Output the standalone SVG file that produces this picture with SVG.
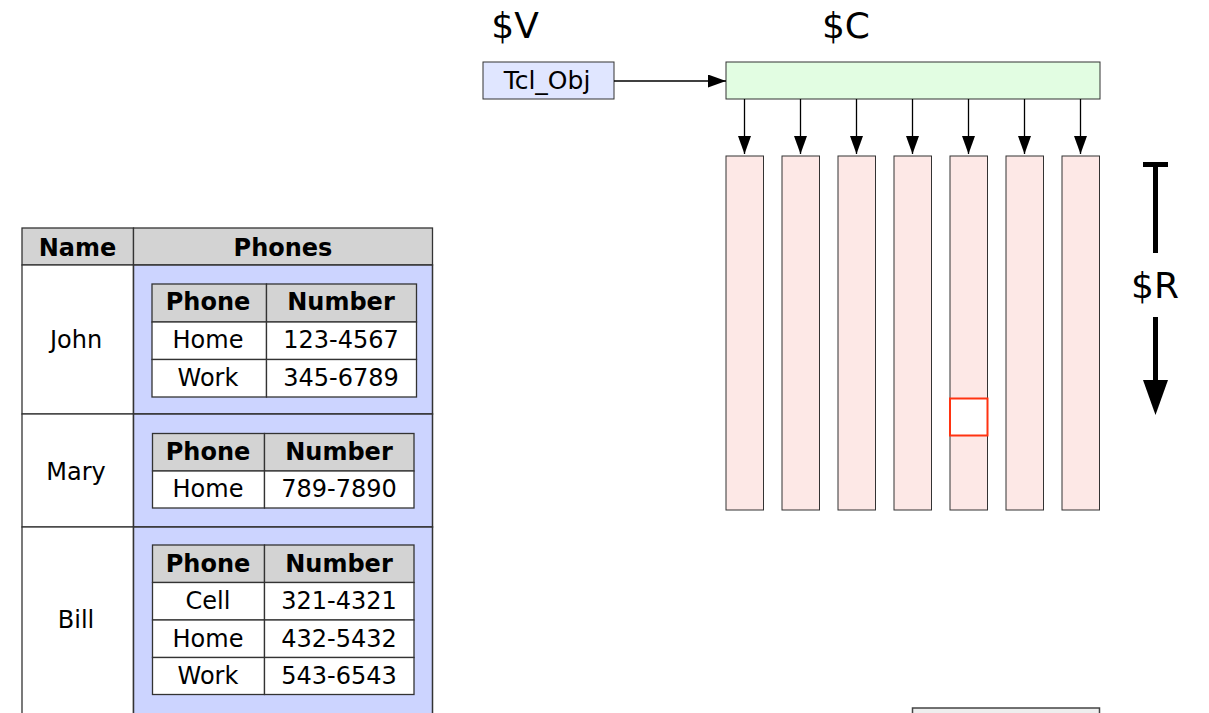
<svg xmlns="http://www.w3.org/2000/svg" width="1209" height="713" viewBox="0 0 1209 713">
<defs>
<style>
text{font-family:"DejaVu Sans","Liberation Sans",sans-serif;fill:#000;text-anchor:middle}
.t{font-size:24px}
.b{font-size:24px;font-weight:bold}
.big{font-size:36px}
.hd{fill:#d3d3d3;stroke:#333;stroke-width:1.3}
.cell{fill:#fff;stroke:#333;stroke-width:1.3}
.blue{fill:#ccd4ff;stroke:#333;stroke-width:1.5}
.col{fill:#fde8e6;stroke:#333;stroke-width:1}
.conn{stroke:#000;stroke-width:1.3;fill:none}
</style>
<marker id="ah" viewBox="0 0 18 13" refX="18" refY="6.5" markerWidth="18" markerHeight="13" markerUnits="userSpaceOnUse" orient="auto"><path d="M0,0 L18,6.5 L0,13 Z" fill="#000"/></marker>
</defs>

<g id="label-V"><text class="big" x="515" y="38">$V</text></g>
<g id="label-C"><text class="big" x="846" y="38">$C</text></g>

<g id="tclobj">
<rect x="483" y="62" width="131" height="37" fill="#e0e6ff" stroke="#333" stroke-width="1"/>
<text x="547" y="89" style="font-size:25px">Tcl_Obj</text>
</g>
<g id="array">
<rect x="726" y="62" width="374" height="37" fill="#e2fde2" stroke="#333" stroke-width="1"/>
</g>

<g id="columns">
<rect class="col" x="726" y="156" width="37.5" height="354"/>
<rect class="col" x="782" y="156" width="37.5" height="354"/>
<rect class="col" x="838" y="156" width="37.5" height="354"/>
<rect class="col" x="894" y="156" width="37.5" height="354"/>
<rect class="col" x="950" y="156" width="37.5" height="354"/>
<rect class="col" x="1006" y="156" width="37.5" height="354"/>
<rect class="col" x="1062" y="156" width="37.5" height="354"/>
</g>
<g id="selected"><rect x="950" y="398.5" width="37.5" height="37" fill="#fff" stroke="#ff3311" stroke-width="2"/></g>

<g id="connectors">
<line class="conn" x1="614" y1="81" x2="726" y2="81" marker-end="url(#ah)"/>
<line class="conn" x1="744.5" y1="99" x2="744.5" y2="154" marker-end="url(#ah)"/>
<line class="conn" x1="800.5" y1="99" x2="800.5" y2="154" marker-end="url(#ah)"/>
<line class="conn" x1="856.5" y1="99" x2="856.5" y2="154" marker-end="url(#ah)"/>
<line class="conn" x1="912.5" y1="99" x2="912.5" y2="154" marker-end="url(#ah)"/>
<line class="conn" x1="968.5" y1="99" x2="968.5" y2="154" marker-end="url(#ah)"/>
<line class="conn" x1="1024.5" y1="99" x2="1024.5" y2="154" marker-end="url(#ah)"/>
<line class="conn" x1="1080.5" y1="99" x2="1080.5" y2="154" marker-end="url(#ah)"/>
</g>

<g id="rows-indicator">
<line x1="1143" y1="164.5" x2="1168" y2="164.5" stroke="#000" stroke-width="5"/>
<line x1="1155.5" y1="162" x2="1155.5" y2="253" stroke="#000" stroke-width="5"/>
<text class="big" x="1155" y="298">$R</text>
<line x1="1155.5" y1="317" x2="1155.5" y2="382" stroke="#000" stroke-width="5"/>
<path d="M1143,380 L1168,380 L1155.5,415 Z" fill="#000"/>
</g>

<g id="table">
<rect class="hd" x="22" y="228" width="111.5" height="37"/>
<rect class="hd" x="133.5" y="228" width="299" height="37"/>
<text class="b" x="77.5" y="256">Name</text>
<text class="b" x="283" y="256">Phones</text>

<rect class="cell" x="22" y="265" width="111.5" height="149"/>
<rect class="blue" x="133.5" y="265" width="299" height="149"/>
<text class="t" x="76" y="348">John</text>

<rect class="cell" x="22" y="414" width="111.5" height="113"/>
<rect class="blue" x="133.5" y="414" width="299" height="113"/>
<text class="t" x="76" y="480">Mary</text>

<rect class="cell" x="22" y="527" width="111.5" height="190"/>
<rect class="blue" x="133.5" y="527" width="299" height="190"/>
<text class="t" x="76" y="628">Bill</text>
</g>

<g id="john-phones">
<rect class="hd" x="152" y="284" width="114.5" height="38"/>
<rect class="hd" x="266.5" y="284" width="150" height="38"/>
<rect class="cell" x="152" y="322" width="114.5" height="37.5"/>
<rect class="cell" x="266.5" y="322" width="150" height="37.5"/>
<rect class="cell" x="152" y="359.5" width="114.5" height="37.5"/>
<rect class="cell" x="266.5" y="359.5" width="150" height="37.5"/>
<text class="b" x="208" y="310">Phone</text>
<text class="b" x="341" y="310">Number</text>
<text class="t" x="208" y="348">Home</text>
<text class="t" x="341" y="348">123-4567</text>
<text class="t" x="208" y="386">Work</text>
<text class="t" x="341" y="386">345-6789</text>
</g>

<g id="mary-phones">
<rect class="hd" x="152.5" y="433.5" width="112" height="37.5"/>
<rect class="hd" x="264.5" y="433.5" width="149.5" height="37.5"/>
<rect class="cell" x="152.5" y="471" width="112" height="37"/>
<rect class="cell" x="264.5" y="471" width="149.5" height="37"/>
<text class="b" x="208" y="460">Phone</text>
<text class="b" x="339" y="460">Number</text>
<text class="t" x="208" y="497">Home</text>
<text class="t" x="339" y="497">789-7890</text>
</g>

<g id="bill-phones">
<rect class="hd" x="152.5" y="545" width="112" height="37.5"/>
<rect class="hd" x="264.5" y="545" width="149.5" height="37.5"/>
<rect class="cell" x="152.5" y="582.5" width="112" height="37.5"/>
<rect class="cell" x="264.5" y="582.5" width="149.5" height="37.5"/>
<rect class="cell" x="152.5" y="620" width="112" height="37.5"/>
<rect class="cell" x="264.5" y="620" width="149.5" height="37.5"/>
<rect class="cell" x="152.5" y="657.5" width="112" height="37"/>
<rect class="cell" x="264.5" y="657.5" width="149.5" height="37"/>
<text class="b" x="208" y="572">Phone</text>
<text class="b" x="339" y="572">Number</text>
<text class="t" x="208" y="609">Cell</text>
<text class="t" x="339" y="609">321-4321</text>
<text class="t" x="208" y="647">Home</text>
<text class="t" x="339" y="647">432-5432</text>
<text class="t" x="208" y="684">Work</text>
<text class="t" x="339" y="684">543-6543</text>
</g>

<g id="bottom-box"><rect x="912.5" y="708" width="187" height="20" fill="#eeeeee" stroke="#444" stroke-width="1.5"/></g>
</svg>
